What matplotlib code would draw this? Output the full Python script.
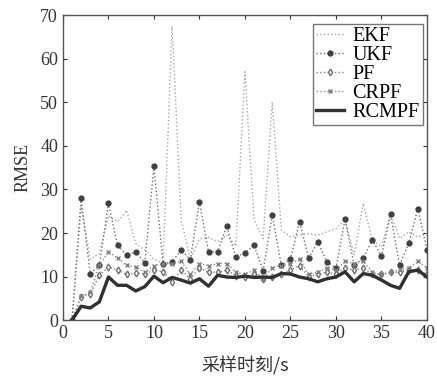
import numpy as np
import matplotlib
matplotlib.use("Agg")
import matplotlib.pyplot as plt

plt.rcParams['font.family'] = ['Liberation Serif', 'Noto Sans CJK SC']

# sampling instants and RMSE of each filter
t = np.arange(1, 41)
ekf = [0, 26, 14, 15.3, 24, 22.6, 25.2, 17.6, 16.1, 14, 13, 67.5, 23, 14, 18.7, 19, 18, 19.5, 17, 57,
       23, 18.7, 50, 20.7, 19.1, 19.5, 19.9, 19.5, 20.3, 21, 23, 15, 26.8, 18.4, 16.8, 24.5, 18.7, 20.3, 19.1, 19.9]
ukf = [0, 28, 10.7, 12.6, 26.8, 17.2, 14.9, 15.7, 13.2, 35.3, 12.9, 13.4, 16.1, 13.9, 27.2, 15.7, 15.7, 21.6, 14.4, 15.5,
       17.2, 11.3, 24.1, 12.6, 14.0, 22.6, 14.2, 18.0, 13.4, 11.9, 23.2, 12.6, 14.2, 18.4, 14.7, 24.3, 12.6, 17.7, 25.6, 16.2]
pf = [0, 5.4, 6.0, 10.3, 12.2, 11.5, 10.5, 10.8, 10.6, 11.5, 11.1, 8.8, 11.5, 9.5, 12.0, 11.0, 11.0, 11.5, 10.2, 10.0,
      10.5, 9.5, 10.0, 10.5, 11.5, 12.5, 10.0, 10.5, 11.0, 10.5, 12.0, 11.5, 12.0, 10.5, 10.5, 11.0, 11.0, 11.5, 11.5, 10.5]
crpf = [0, 5.5, 6.5, 12.6, 15.7, 14.2, 12.6, 12.2, 11.0, 12.5, 13.0, 13.0, 13.5, 10.5, 13.0, 12.5, 13.0, 13.0, 11.0, 10.5,
        11.5, 9.5, 12.0, 12.5, 13.0, 14.0, 10.5, 11.0, 12.0, 11.5, 13.5, 13.0, 13.5, 11.0, 10.5, 11.0, 11.5, 12.0, 13.5, 12.0]
rcmpf = [0, 3.2, 2.8, 4.2, 9.9, 8.0, 8.0, 6.7, 7.7, 10.1, 8.6, 9.8, 9.2, 8.5, 9.5, 7.8, 10.3, 9.9, 9.8, 10.1,
         9.8, 9.9, 9.8, 10.7, 10.6, 9.9, 9.5, 8.8, 9.5, 9.9, 11.1, 8.8, 10.7, 10.3, 9.2, 8.0, 7.3, 11.1, 11.5, 9.9]

fig = plt.figure(figsize=(4.37, 3.78), dpi=100)
ax = fig.add_axes([0.144, 0.153, 0.833, 0.807])

ax.plot(t, ekf, ':', color='#a8a8a8', lw=1.0, label='EKF')
ax.plot(t, ukf, ':', color='#707070', lw=1.0, marker='o', ms=3.5, mfc='#404040', mec='#404040', label='UKF')
ax.plot(t, pf, ':', color='#808080', lw=1.0, marker='d', ms=3.5, mfc='white', mec='#707070', label='PF')
ax.plot(t, crpf, ':', color='#909090', lw=1.0, marker='x', ms=3, mec='#808080', label='CRPF')
ax.plot(t, rcmpf, '-', color='#303030', lw=2.4, label='RCMPF')

ax.set_xlim(0, 40)
ax.set_ylim(0, 70)
ax.set_xticks(np.arange(0, 41, 5))
ax.set_yticks(np.arange(0, 71, 10))
ax.tick_params(direction='in', top=True, right=True, labelsize=13, colors='#333333', length=3)
for s in ax.spines.values():
    s.set_color('#555555')
    s.set_linewidth(1.0)

ax.set_xlabel('采样时刻/s', fontsize=13, family=['Noto Sans CJK SC'], color='#333333', labelpad=10)
ax.set_ylabel('RMSE', fontsize=13, color='#333333', labelpad=6)

leg = ax.legend(loc='upper right', fontsize=14.5, frameon=True, fancybox=False, edgecolor='#555555',
                handlelength=1.4, labelspacing=0.0, borderpad=0.15, handletextpad=0.4,
                borderaxespad=0.0, bbox_to_anchor=(0.988, 0.972))
leg.get_frame().set_linewidth(1.0)

fig.savefig('out.png', dpi=100, facecolor='white')
